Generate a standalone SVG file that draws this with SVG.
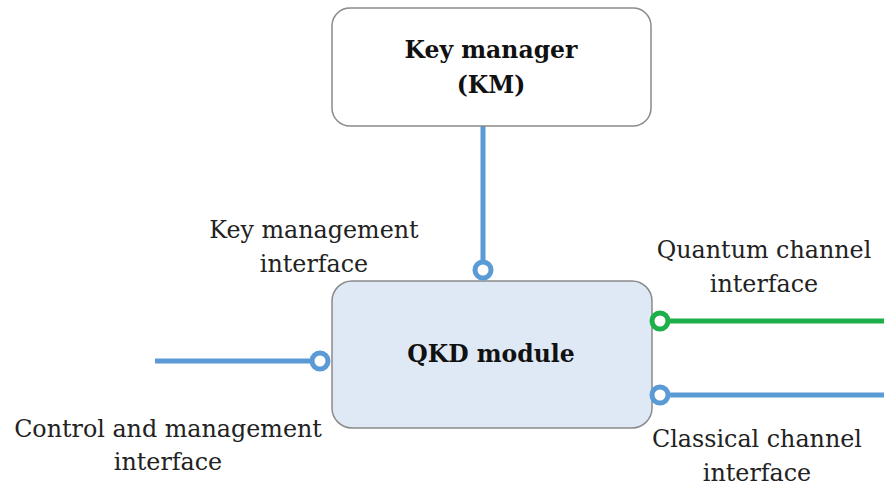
<svg xmlns="http://www.w3.org/2000/svg" width="884" height="488" viewBox="0 0 884 488">
  <style>
    .box { stroke: #8a8a8a; stroke-width: 1.5; }
    .title { font-family: "DejaVu Serif", "Liberation Serif", serif; font-weight: bold; font-size: 23.5px; fill: #111; text-anchor: middle; }
    .label { font-family: "DejaVu Serif", "Liberation Serif", serif; font-size: 23.8px; fill: #222; text-anchor: middle; }
    .blue { stroke: #5b9bd5; }
    .green { stroke: #1db04a; }
    .wire { stroke-width: 5; fill: none; }
    .port { stroke-width: 5; fill: #fff; }
  </style>
  <rect width="884" height="488" fill="#fff"/>

  <g id="connectors">
    <line class="wire blue" x1="483" y1="126" x2="483" y2="262"/>
    <line class="wire blue" x1="155" y1="361" x2="312" y2="361"/>
    <line class="wire green" x1="668" y1="321" x2="884" y2="321"/>
    <line class="wire blue" x1="668" y1="395" x2="884" y2="395"/>
  </g>

  <g id="key-manager">
    <rect class="box" x="332" y="8" width="319" height="118" rx="18" fill="#fff"/>
    <text class="title" x="491" y="58">Key manager</text>
    <text class="title" x="491" y="93">(KM)</text>
  </g>

  <g id="qkd-module">
    <rect class="box" x="332" y="281" width="320" height="147" rx="20" fill="#dfe9f5"/>
    <text class="title" x="491" y="362">QKD module</text>
  </g>

  <g id="ports">
    <circle class="port blue" cx="483" cy="270" r="8"/>
    <circle class="port blue" cx="320" cy="361" r="8"/>
    <circle class="port green" cx="660" cy="321" r="8"/>
    <circle class="port blue" cx="660" cy="395" r="8"/>
  </g>

  <g id="labels">
    <text class="label" x="314" y="238">Key management</text>
    <text class="label" x="314" y="272">interface</text>
    <text class="label" x="764" y="258">Quantum channel</text>
    <text class="label" x="764" y="292">interface</text>
    <text class="label" x="168" y="437">Control and management</text>
    <text class="label" x="168" y="470">interface</text>
    <text class="label" x="757" y="447">Classical channel</text>
    <text class="label" x="757" y="481">interface</text>
  </g>
</svg>
